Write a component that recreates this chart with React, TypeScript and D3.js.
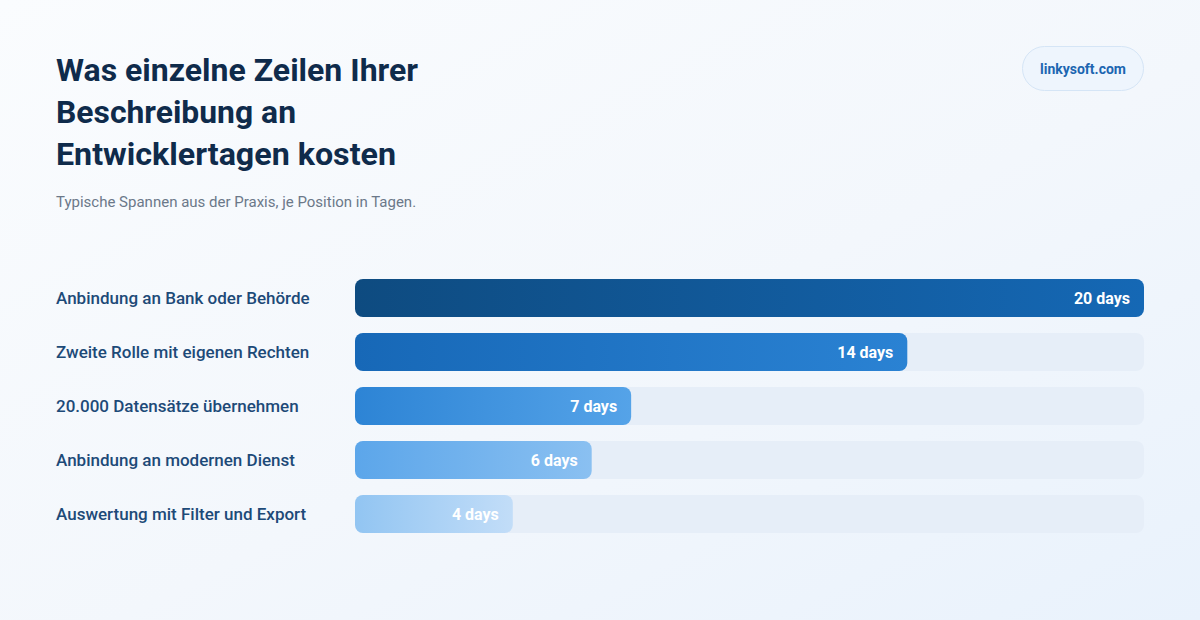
import React from "react";
import * as d3 from "d3";

const categories = [
  "Anbindung an Bank oder Behörde",
  "Zweite Rolle mit eigenen Rechten",
  "20.000 Datensätze übernehmen",
  "Anbindung an modernen Dienst",
  "Auswertung mit Filter und Export",
];
const values = [20, 14, 7, 6, 4];
const valueLabels = ["20 days", "14 days", "7 days", "6 days", "4 days"];
const gradientStops: [string, string][] = [
  ["#0e4b80", "#1568b5"],
  ["#1768b7", "#2a82d3"],
  ["#2d84d5", "#55a3e8"],
  ["#5ca6ea", "#8ac0f1"],
  ["#92c5f2", "#c2ddf8"],
];
const titleLines = ["Was einzelne Zeilen Ihrer", "Beschreibung an", "Entwicklertagen kosten"];
const subtitle = "Typische Spannen aus der Praxis, je Position in Tagen.";
const badge = "linkysoft.com";

const W = 1200;
const H = 620;
const FONT = "Roboto, 'Noto Sans', sans-serif";
const titleWidths = [362, 240, 340];

export default function App() {
  const x = d3.scaleLinear().domain([0, 20]).range([355, 1144]);
  const bh = 38;
  const gap = 16;
  const y = d3
    .scaleBand<number>()
    .domain(d3.range(categories.length))
    .range([279, 279 + (bh + gap) * categories.length - gap])
    .paddingInner(gap / (bh + gap))
    .paddingOuter(0);
  return (
    <div style={{ position: "absolute", left: 0, top: 0, margin: 0 }}>
      <svg width={W} height={H} style={{ display: "block" }}>
        <defs>
          <linearGradient id="bg" x1="0" y1="0" x2="1" y2="1">
            <stop offset="0" stopColor="#fafcfe" />
            <stop offset="0.55" stopColor="#f3f7fc" />
            <stop offset="1" stopColor="#e9f2fc" />
          </linearGradient>
          {gradientStops.map((g, i) => (
            <linearGradient key={i} id={`bar${i}`} x1="0" y1="0" x2="1" y2="0">
              <stop offset="0" stopColor={g[0]} />
              <stop offset="1" stopColor={g[1]} />
            </linearGradient>
          ))}
        </defs>
        <rect x={0} y={0} width={W} height={H} fill="url(#bg)" />

        {titleLines.map((t, i) => (
          <text
            key={i}
            x={56}
            y={81 + i * 42}
            fontFamily={FONT}
            fontWeight={700}
            fontSize={32}
            fill="#0f2b4b"
            textLength={titleWidths[i]}
            lengthAdjust="spacingAndGlyphs"
          >
            {t}
          </text>
        ))}
        <text x={56} y={207} fontFamily={FONT} fontSize={15} fill="#6b7889">
          {subtitle}
        </text>

        <rect x={1022.5} y={46.5} width={121} height={44} rx={22} fill="#eef5fd" stroke="#d5e5f6" />
        <text
          x={1083}
          y={74}
          textAnchor="middle"
          fontFamily={FONT}
          fontWeight={700}
          fontSize={14}
          fill="#1c66b1"
        >
          {badge}
        </text>

        {categories.map((c, i) => {
          const y0 = y(i) as number;
          const x1 = x(values[i]);
          return (
            <g key={c}>
              <text
                x={56}
                y={y0 + bh / 2 + 6}
                fontFamily={FONT}
                fontWeight={500}
                fontSize={17}
                fill="#1d4a78"
              >
                {c}
              </text>
              <rect x={x(0)} y={y0} width={x(20) - x(0)} height={bh} rx={8} fill="#e6eef8" />
              <rect x={x(0)} y={y0} width={x1 - x(0)} height={bh} rx={8} fill={`url(#bar${i})`} />
              <text
                x={x1 - 14}
                y={y0 + bh / 2 + 6}
                textAnchor="end"
                fontFamily={FONT}
                fontWeight={700}
                fontSize={16}
                fill="#ffffff"
              >
                {valueLabels[i]}
              </text>
            </g>
          );
        })}
      </svg>
    </div>
  );
}
